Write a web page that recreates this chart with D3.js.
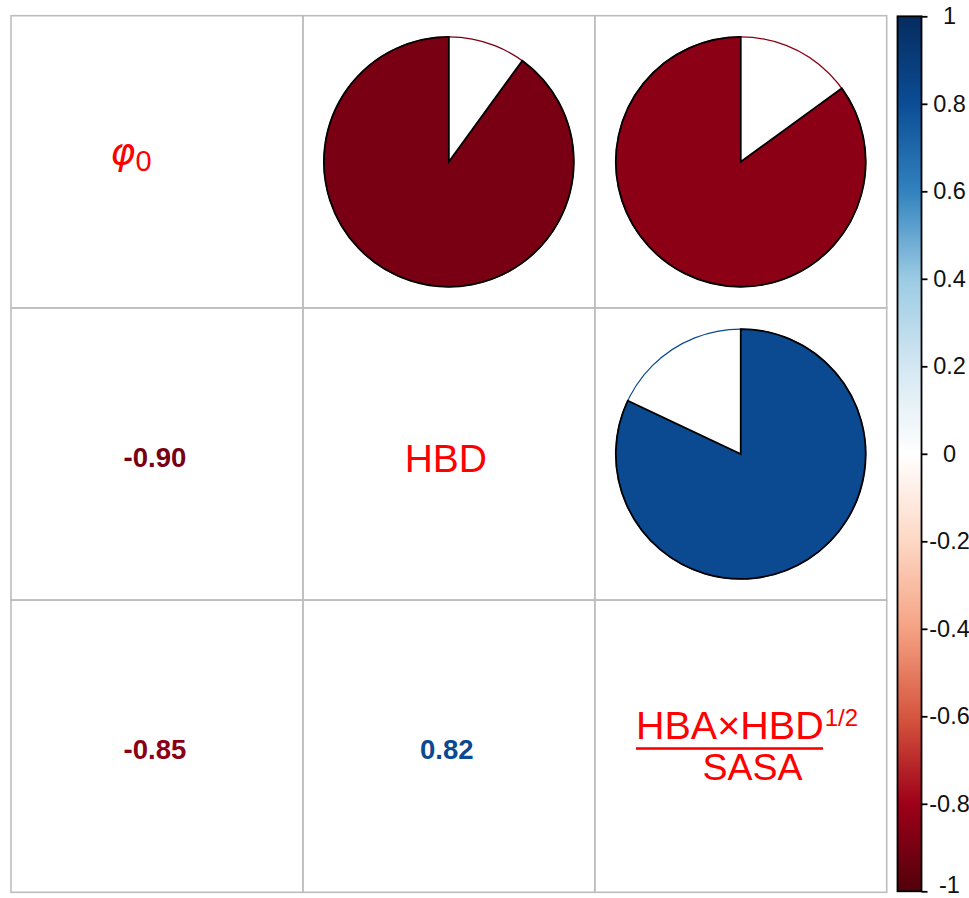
<!DOCTYPE html>
<html>
<head>
<meta charset="utf-8">
<script src="https://cdn.jsdelivr.net/npm/d3@7"></script>
<style>
  html, body { margin: 0; padding: 0; background: #fff; }
  svg { display: block; }
</style>
</head>
<body>
<svg id="chart" width="969" height="898"></svg>
<script>
// Variables along both axes of the correlation matrix
const variables = ["phi0", "HBD", "ratio"];
// Pairwise correlations (upper triangle drawn as pies, lower as numbers)
const pairs = [
  { row: 0, col: 1, r: -0.90 },
  { row: 0, col: 2, r: -0.85 },
  { row: 1, col: 2, r: 0.82 }
];
// Colour bar ticks
const legendTicks = [1, 0.8, 0.6, 0.4, 0.2, 0, -0.2, -0.4, -0.6, -0.8, -1];
const legendLabels = ["1", "0.8", "0.6", "0.4", "0.2", "0", "-0.2", "-0.4", "-0.6", "-0.8", "-1"];
// Diverging palette stops, from -1 to 1
const paletteStops = ["#52000c", "#9e0018", "#d6563f", "#f5a283", "#fdd8c4", "#ffffff",
                      "#d3e7f2", "#9bcbe3", "#3182be", "#0b4d95", "#062b5f"];

const svg = d3.select("#chart");
const n = variables.length;

const x = d3.scaleBand().domain(d3.range(n)).range([11, 886.7]).padding(0);
const y = d3.scaleBand().domain(d3.range(n)).range([15.7, 892.3]).padding(0);
const color = d3.scaleLinear()
  .domain(d3.range(paletteStops.length).map(i => -1 + i * 0.2))
  .range(paletteStops)
  .interpolate(d3.interpolateRgb);

// Grid
const grid = svg.append("g");
d3.range(n).forEach(i => d3.range(n).forEach(j => {
  grid.append("rect")
    .attr("x", x(j)).attr("y", y(i))
    .attr("width", x.bandwidth()).attr("height", y.bandwidth())
    .attr("fill", "none").attr("stroke", "#bdbdbd").attr("stroke-width", 1.6);
}));

// Upper triangle: pies
const radius = x.bandwidth() * 0.428;
const arc = d3.arc().innerRadius(0).outerRadius(radius);
const pies = svg.append("g");
pairs.forEach(p => {
  const cx = x(p.col) + x.bandwidth() / 2;
  const cy = y(p.row) + y.bandwidth() / 2;
  const g = pies.append("g").attr("transform", `translate(${cx},${cy})`);
  const c = color(p.r);
  g.append("circle").attr("r", radius).attr("fill", "#fff")
    .attr("stroke", c).attr("stroke-width", 1.2);
  const span = Math.abs(p.r) * 2 * Math.PI;
  const a = p.r >= 0
    ? { startAngle: 0, endAngle: span }
    : { startAngle: 2 * Math.PI - span, endAngle: 2 * Math.PI };
  g.append("path").attr("d", arc(a))
    .attr("fill", c).attr("stroke", "#000").attr("stroke-width", 1.8)
    .attr("stroke-linejoin", "miter");
});

// Lower triangle: numbers
const nums = svg.append("g");
pairs.forEach(p => {
  const cx = x(p.row) + x.bandwidth() / 2;
  const cy = y(p.col) + y.bandwidth() / 2;
  nums.append("text")
    .attr("x", cx - 2).attr("y", cy + 13)
    .attr("text-anchor", "middle")
    .attr("font-family", "Liberation Sans, Arial, sans-serif")
    .attr("font-weight", "bold")
    .attr("font-size", 27.5)
    .attr("fill", color(p.r))
    .text(p.r.toFixed(2));
});

// Diagonal: variable names
const red = "#ff0000";
const diag = svg.append("g").attr("fill", red)
  .attr("font-family", "Liberation Sans, Arial, sans-serif");

// phi_0
{
  const cx = x(0) + x.bandwidth() / 2, cy = y(0) + y.bandwidth() / 2;
  const t = diag.append("text").attr("x", cx - 26).attr("y", cy + 2)
    .attr("text-anchor", "middle");
  t.append("tspan").attr("font-family", "DejaVu Sans, sans-serif")
    .attr("font-style", "italic").attr("font-size", 38).text("φ");
  t.append("tspan").attr("font-size", 29).attr("dy", 7).text("0");
}
// HBD
{
  const cx = x(1) + x.bandwidth() / 2, cy = y(1) + y.bandwidth() / 2;
  diag.append("text").attr("x", cx - 3).attr("y", cy + 18)
    .attr("text-anchor", "middle").attr("font-size", 39).text("HBD");
}
// (HBA × HBD^1/2) / SASA
{
  const left = 636, right = 823;
  const ty = y(2) + y.bandwidth() / 2;
  const t = diag.append("text").attr("x", left).attr("y", ty - 7)
    .attr("text-anchor", "start").attr("font-size", 39.5);
  t.append("tspan").text("HBA×HBD");
  t.append("tspan").attr("font-size", 24).attr("dx", 1).attr("dy", -13).text("1/2");
  diag.append("rect").attr("x", left).attr("y", ty + 1)
    .attr("width", right - left).attr("height", 2.6).attr("fill", red);
  diag.append("text").attr("x", (left + right) / 2 + 23).attr("y", ty + 34)
    .attr("text-anchor", "middle").attr("font-size", 37.5).text("SASA");
}

// Colour legend
const ly = d3.scaleLinear().domain([1, -1]).range([16.3, 891.3]);
const defs = svg.append("defs");
const grad = defs.append("linearGradient").attr("id", "legendGrad")
  .attr("x1", 0).attr("y1", 0).attr("x2", 0).attr("y2", 1);
d3.range(0, 1.0001, 0.02).forEach(t => {
  grad.append("stop").attr("offset", t).attr("stop-color", color(1 - 2 * t));
});
const barX = 897.5, barW = 24;
svg.append("rect").attr("x", barX).attr("y", ly(1))
  .attr("width", barW).attr("height", ly(-1) - ly(1))
  .attr("fill", "url(#legendGrad)").attr("stroke", "#000").attr("stroke-width", 1.8);

const axis = d3.axisRight(ly).tickValues(legendTicks).tickSize(6)
  .tickFormat((d, i) => legendLabels[i]);
const ax = svg.append("g").attr("transform", `translate(${barX + barW},0)`).call(axis);
ax.select(".domain").remove();
ax.selectAll(".tick line").attr("stroke", "#000").attr("stroke-width", 1.8);
ax.selectAll(".tick text")
  .attr("x", 28).attr("text-anchor", "middle")
  .attr("font-family", "Liberation Sans, Arial, sans-serif")
  .attr("font-size", 23.5).attr("fill", "#111")
  .attr("dy", d => d === -1 ? "0.05em" : "0.32em");
</script>
</body>
</html>
